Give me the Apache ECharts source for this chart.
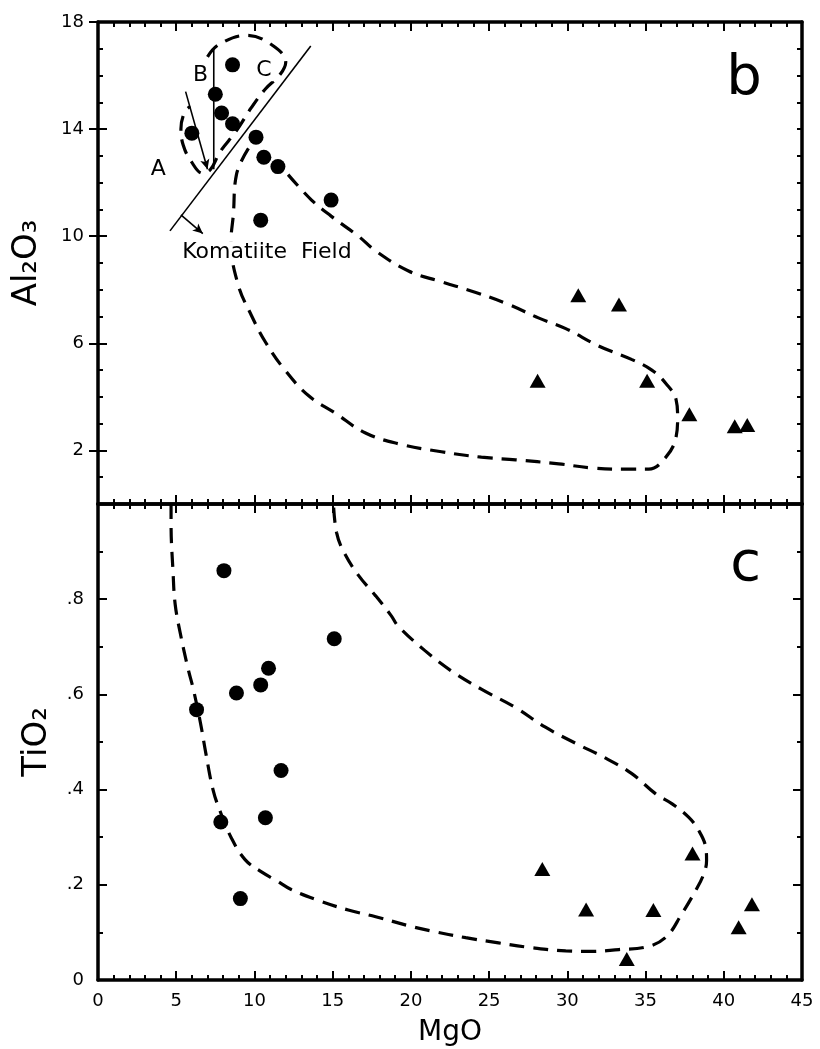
<!DOCTYPE html>
<html><head><meta charset="utf-8">
<script src="https://cdn.jsdelivr.net/npm/echarts@6/dist/echarts.min.js"></script>
<style>html,body{margin:0;padding:0;background:#fff}#c{width:820px;height:1049px}</style>
</head><body><div id="c"></div>
<script>
// ---------- tick labels ----------
const mgoTicks = [0, 5, 10, 15, 20, 25, 30, 35, 40, 45];
const al2o3Ticks = [2, 6, 10, 14, 18];
const tio2Ticks = [0, 0.2, 0.4, 0.6, 0.8];

// ---------- panel b : Al2O3 vs MgO ----------
const bCircles = [[8.6,16.4],[7.5,15.3],[7.9,14.6],[8.6,14.2],[6.0,13.85],[10.1,13.7],[10.6,12.95],[11.5,12.6],[14.9,11.35],[10.4,10.6]];
const bTriangles = [[30.7,7.8],[33.3,7.45],[28.1,4.6],[35.1,4.6],[37.8,3.35],[40.7,2.9],[41.5,2.95]];
const bLoopABC = [[7.0,16.7],[7.7,17.15],[9.5,17.5],[11.1,17.15],[12.0,16.5],[11.65,16.05],[10.7,15.5],[9.8,14.8],[8.8,13.9],[7.8,13.15],[7.2,12.5],[6.7,12.35],[5.95,12.8],[5.45,13.4],[5.3,14.0],[5.55,14.65],[5.9,14.85]];
const bKomatiiteField = [[12.15,12.3],[13.65,11.35],[14.9,10.75],[16.65,10.0],[17.75,9.45],[19.85,8.7],[21.95,8.3],[24.15,7.9],[26.25,7.45],[28.15,6.95],[29.9,6.55],[32.0,5.9],[34.1,5.4],[35.4,5.0],[36.3,4.5],[36.95,3.9],[37.05,3.25],[36.95,2.5],[36.3,1.75],[35.2,1.3],[33.75,1.3],[31.55,1.35],[29.45,1.5],[26.7,1.65],[24.5,1.75],[21.95,1.95],[19.2,2.25],[17.1,2.65],[15.15,3.4],[13.45,4.05],[11.95,5.0],[10.7,6.05],[9.8,7.05],[8.95,8.2],[8.5,9.8],[8.65,10.8],[8.85,12.3],[9.75,13.4]];
const bBoundaryLine = [[4.6,10.2],[13.6,17.1]];
const bArrowA = [[5.6,15.4],[7.0,12.5]];
const bLineB = [[7.4,17.0],[7.4,12.5]];
const bArrowField = [[5.3,10.8],[6.7,10.1]];
const bLabels = [{name:'A', value:[3.85,12.5]},{name:'B', value:[6.55,16.0]},{name:'C', value:[10.6,16.2]},{name:'Komatiite  Field', value:[10.8,9.4]}];

// ---------- panel c : TiO2 vs MgO ----------
const cCircles = [[8.05,0.86],[15.1,0.717],[10.9,0.655],[10.4,0.62],[8.85,0.603],[6.3,0.568],[11.7,0.44],[7.85,0.332],[10.7,0.341],[9.1,0.171]];
const cTriangles = [[28.4,0.233],[38.0,0.266],[31.2,0.148],[35.5,0.147],[41.8,0.159],[40.95,0.111],[33.8,0.044]];
const cField = [[4.67,1.0],[4.67,0.96],[4.8,0.855],[4.93,0.79],[5.25,0.73],[5.75,0.655],[6.1,0.61],[6.55,0.54],[6.9,0.475],[7.35,0.4],[7.8,0.355],[8.5,0.3],[9.4,0.253],[10.45,0.227],[11.35,0.21],[12.35,0.19],[14.1,0.167],[16.0,0.147],[17.75,0.133],[19.85,0.114],[21.3,0.103],[23.5,0.089],[25.6,0.078],[27.7,0.068],[29.9,0.061],[31.55,0.06],[33.3,0.064],[35.0,0.069],[36.3,0.09],[37.3,0.138],[38.2,0.188],[38.7,0.221],[38.9,0.251],[38.85,0.278],[38.4,0.314],[37.75,0.342],[36.7,0.37],[35.65,0.391],[34.1,0.434],[32.45,0.466],[30.55,0.497],[28.6,0.531],[26.7,0.572],[24.5,0.611],[22.6,0.649],[20.9,0.692],[19.2,0.743],[18.75,0.765],[17.75,0.807],[16.65,0.85],[15.7,0.9],[15.25,0.94],[15.05,1.0]];

// ---------- panel letters ----------
const panelB = [{name:'b', value:[41.3,15.85]}];
const panelC = [{name:'c', value:[41.4,0.87]}];

const FONT = 'DejaVu Sans';
const BLACK = '#000';

function xAx(grid, pos, labels, name) {
  return {
    type:'value', gridIndex:grid, position:pos, min:0, max:45, interval:5,
    axisLine:{show:true, onZero:false, lineStyle:{color:BLACK, width:3.5}},
    axisTick:{show:true, inside:true, length:9, lineStyle:{color:BLACK, width:2}},
    minorTick:{show:true, splitNumber:5, length:5, lineStyle:{color:BLACK, width:2}},
    splitLine:{show:false}, minorSplitLine:{show:false},
    axisLabel:{show:labels, margin:12, color:BLACK, fontFamily:FONT, fontSize:18,
      customValues: mgoTicks},
    name: name || '', nameLocation:'middle', nameGap:39,
    nameTextStyle:{color:BLACK, fontFamily:FONT, fontSize:28}
  };
}

const dash = {color:BLACK, width:3.2, type:[15,9]};
const thin = {color:BLACK, width:1.6, type:'solid'};

function lineSeries(data, xi, yi, style, smooth) {
  return {type:'line', xAxisIndex:xi, yAxisIndex:yi, data:data, showSymbol:false, symbol:'none',
    smooth:smooth, lineStyle:style, silent:true, z:2};
}
function arrowSeries(pairs, xi, yi) {
  return {type:'line', xAxisIndex:xi, yAxisIndex:yi, data:[], silent:true,
    markLine:{silent:true, symbol:['none','arrow'], symbolSize:[7,10], label:{show:false},
      lineStyle:thin,
      data: pairs.map(p => [{coord:p[0]},{coord:p[1]}])}};
}
function textSeries(data, xi, yi, size, bg) {
  return {type:'scatter', xAxisIndex:xi, yAxisIndex:yi, data:data, symbolSize:1,
    itemStyle:{color:'rgba(0,0,0,0)', opacity:1}, silent:true, z:5,
    label:{show:true, position:'inside', formatter:p=>p.name, color:BLACK, opacity:1,
      fontFamily:FONT, fontSize:size, backgroundColor: bg ? '#fff' : 'transparent', padding: bg ? [0,2] : 0}};
}
function markerSeries(data, xi, yi, symbol, size) {
  return {type:'scatter', xAxisIndex:xi, yAxisIndex:yi, data:data, symbol:symbol, symbolSize:size,
    itemStyle:{color:BLACK, opacity:1}, silent:true, z:4};
}

const option = {
  backgroundColor:'#fff',
  animation:false,
  grid:[
    {left:98, width:704, top:22, height:482, containLabel:false, outerBoundsMode:'none'},
    {left:98, width:704, top:504, height:476, containLabel:false, outerBoundsMode:'none'}
  ],
  xAxis:[
    xAx(0,'bottom',false), xAx(0,'top',false),
    xAx(1,'bottom',true,'MgO'), xAx(1,'top',false)
  ],
  yAxis:[
    // panel b left (minor ticks + labels + name)
    {type:'value', gridIndex:0, position:'left', min:0, max:18, interval:1,
     axisLine:{show:true, onZero:false, lineStyle:{color:BLACK, width:3.5}},
     axisTick:{show:true, inside:true, length:5, lineStyle:{color:BLACK, width:2}},
     splitLine:{show:false},
     axisLabel:{show:true, margin:14, color:BLACK, fontFamily:FONT, fontSize:18, customValues:al2o3Ticks},
     name:'Al₂O₃', nameLocation:'middle', nameGap:54,
     nameTextStyle:{color:BLACK, fontFamily:FONT, fontSize:34}},
    // panel b left major ticks
    {type:'value', gridIndex:0, position:'left', min:0, max:18,
     axisLine:{show:false}, splitLine:{show:false}, axisLabel:{show:false},
     axisTick:{show:true, inside:true, length:9, customValues:al2o3Ticks, lineStyle:{color:BLACK, width:2}}},
    // panel b right
    {type:'value', gridIndex:0, position:'right', min:0, max:18, interval:1,
     axisLine:{show:true, onZero:false, lineStyle:{color:BLACK, width:3.5}},
     axisTick:{show:true, inside:true, length:5, lineStyle:{color:BLACK, width:2}},
     splitLine:{show:false}, axisLabel:{show:false}},
    {type:'value', gridIndex:0, position:'right', min:0, max:18,
     axisLine:{show:false}, splitLine:{show:false}, axisLabel:{show:false},
     axisTick:{show:true, inside:true, length:9, customValues:al2o3Ticks, lineStyle:{color:BLACK, width:2}}},
    // panel c left
    {type:'value', gridIndex:1, position:'left', min:0, max:1, interval:0.2,
     axisLine:{show:true, onZero:false, lineStyle:{color:BLACK, width:3.5}},
     axisTick:{show:true, inside:true, length:9, lineStyle:{color:BLACK, width:2}},
     minorTick:{show:true, splitNumber:2, length:5, lineStyle:{color:BLACK, width:2}},
     splitLine:{show:false}, minorSplitLine:{show:false},
     axisLabel:{show:true, margin:14, color:BLACK, fontFamily:FONT, fontSize:18, customValues:tio2Ticks,
       formatter: v => v === 0 ? '0' : ('.' + Math.round(v*10))},
     name:'TiO₂', nameLocation:'middle', nameGap:44,
     nameTextStyle:{color:BLACK, fontFamily:FONT, fontSize:34}},
    // panel c right
    {type:'value', gridIndex:1, position:'right', min:0, max:1, interval:0.2,
     axisLine:{show:true, onZero:false, lineStyle:{color:BLACK, width:3.5}},
     axisTick:{show:true, inside:true, length:9, lineStyle:{color:BLACK, width:2}},
     minorTick:{show:true, splitNumber:2, length:5, lineStyle:{color:BLACK, width:2}},
     splitLine:{show:false}, minorSplitLine:{show:false}, axisLabel:{show:false}}
  ],
  series:[
    // panel b
    lineSeries(bKomatiiteField, 0, 0, dash, 0.4),
    lineSeries(bLoopABC, 0, 0, dash, 0.4),
    lineSeries(bBoundaryLine, 0, 0, thin, false),
    lineSeries(bLineB, 0, 0, thin, false),
    arrowSeries([bArrowA, bArrowField], 0, 0),
    markerSeries(bCircles, 0, 0, 'circle', 15),
    markerSeries(bTriangles, 0, 0, 'triangle', [16,14]),
    textSeries(bLabels, 0, 0, 22, true),
    textSeries(panelB, 0, 0, 56, false),
    // panel c
    lineSeries(cField, 2, 4, dash, 0.4),
    markerSeries(cCircles, 2, 4, 'circle', 15),
    markerSeries(cTriangles, 2, 4, 'triangle', [16,14]),
    textSeries(panelC, 2, 4, 56, false)
  ]
};

const chart = echarts.init(document.getElementById('c'), null, {renderer:'canvas'});
chart.setOption(option);
</script>
</body></html>
